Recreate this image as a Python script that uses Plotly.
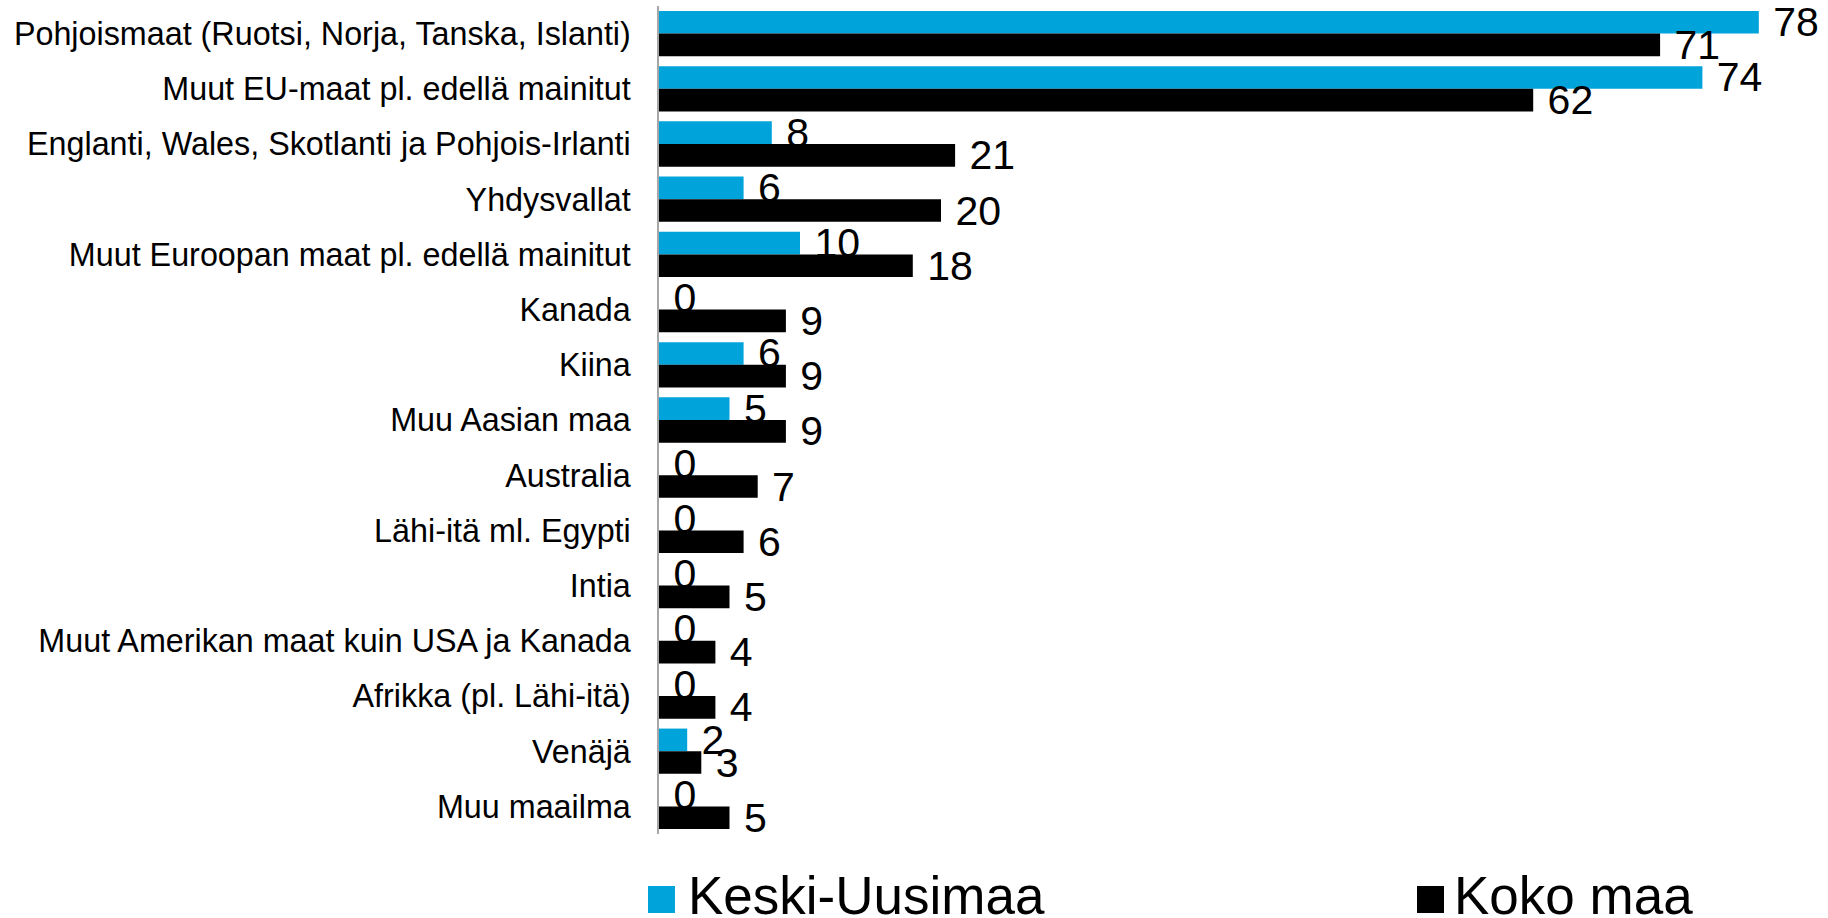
import plotly.graph_objects as go

categories = [
    "Pohjoismaat (Ruotsi, Norja, Tanska, Islanti)",
    "Muut EU-maat pl. edellä mainitut",
    "Englanti, Wales, Skotlanti ja Pohjois-Irlanti",
    "Yhdysvallat",
    "Muut Euroopan maat pl. edellä mainitut",
    "Kanada",
    "Kiina",
    "Muu Aasian maa",
    "Australia",
    "Lähi-itä ml. Egypti",
    "Intia",
    "Muut Amerikan maat kuin USA ja Kanada",
    "Afrikka (pl. Lähi-itä)",
    "Venäjä",
    "Muu maailma",
]
keski_uusimaa = [78, 74, 8, 6, 10, 0, 6, 5, 0, 0, 0, 0, 0, 2, 0]
koko_maa = [71, 62, 21, 20, 18, 9, 9, 9, 7, 6, 5, 4, 4, 3, 5]

series_names = ["Keski-Uusimaa", "Koko maa"]
series_colors = ["#00A3DA", "#000000"]

FONT = "Liberation Sans, Arial, sans-serif"

W, H = 1828, 918
L, R, T, B = 659, 41, 6, 84
pw = W - L - R
ph = H - T - B

fig = go.Figure()
for name, vals, col in zip(series_names, [keski_uusimaa, koko_maa], series_colors):
    fig.add_trace(go.Bar(
        y=categories, x=vals, name=name, orientation="h",
        marker=dict(color=col, line=dict(width=0)),
        text=vals, texttemplate="\u00a0%{x}", textposition="outside",
        constraintext="none", cliponaxis=False,
        textfont=dict(family=FONT, size=41, color="#000000"),
        showlegend=False, hoverinfo="skip",
    ))

# custom legend (large square markers)
def px2x(px):
    return (px - L) / pw

def py2y(py):
    return (H - B - py) / ph

legend_items = [(648, 686), (1417, 1452)]
for (sq_x, tx_x), name, col in zip(legend_items, series_names, series_colors):
    fig.add_shape(type="rect", xref="paper", yref="paper",
                  x0=px2x(sq_x), x1=px2x(sq_x + 27), y0=py2y(913), y1=py2y(886),
                  fillcolor=col, line=dict(width=0))
    fig.add_annotation(xref="paper", yref="paper", x=px2x(tx_x), y=py2y(896),
                       xanchor="left", yanchor="middle", showarrow=False,
                       text=name, font=dict(family=FONT, size=53, color="#000000"))

fig.update_layout(
    width=W, height=H,
    margin=dict(l=L, r=R, t=T, b=B, pad=0),
    barmode="group", bargap=0.18, bargroupgap=0,
    plot_bgcolor="white", paper_bgcolor="white",
    font=dict(family=FONT, color="#000000"),
    showlegend=False,
)
fig.update_xaxes(range=[0, 80], visible=False, showgrid=False, zeroline=False)
fig.update_yaxes(autorange="reversed", showgrid=False, zeroline=False,
                 showline=True, linecolor="#A6A6A6", linewidth=1.5,
                 ticks="", ticklabelstandoff=20,
                 tickfont=dict(family=FONT, size=32.3, color="#000000"))

fig.write_html("out.html", config={"displayModeBar": False},
               post_script="document.body.style.margin='0';document.documentElement.style.overflow='hidden';")
